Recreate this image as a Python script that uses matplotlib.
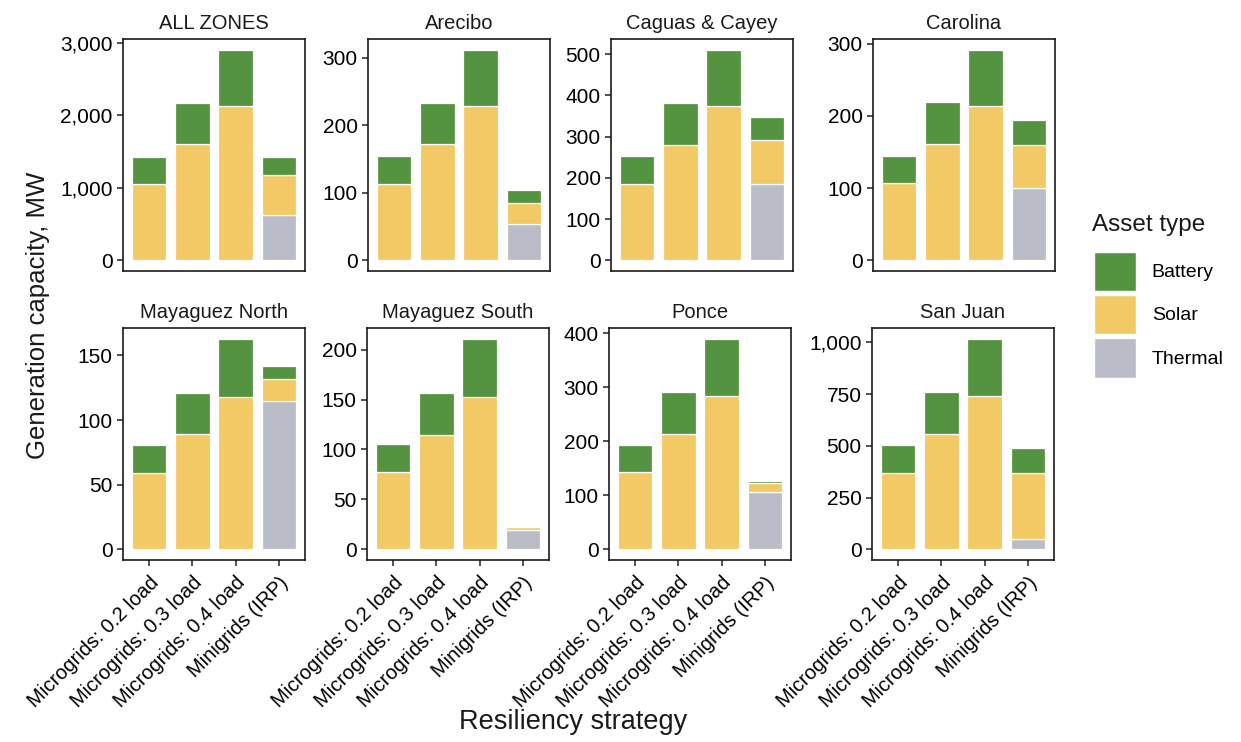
"""Generation capacity by resiliency strategy and asset type, per zone."""

import numpy as np
import matplotlib.pyplot as plt
from matplotlib.patches import Patch
from matplotlib.ticker import MultipleLocator, FuncFormatter

plt.rcParams['font.family'] = ['Liberation Sans', 'DejaVu Sans']

zones = ["ALL ZONES", "Arecibo", "Caguas & Cayey", "Carolina",
         "Mayaguez North", "Mayaguez South", "Ponce", "San Juan"]
strategies = ["Microgrids: 0.2 load", "Microgrids: 0.3 load",
              "Microgrids: 0.4 load", "Minigrids (IRP)"]
asset_types = ["Battery", "Solar", "Thermal"]

# MW per zone, one value per strategy
thermal = [
    [0, 0, 0, 625],
    [0, 0, 0, 54],
    [0, 0, 0, 186],
    [0, 0, 0, 100],
    [0, 0, 0, 115],
    [0, 0, 0, 19],
    [0, 0, 0, 107],
    [0, 0, 0, 49],
]
solar = [
    [1048, 1600, 2123, 552],
    [113, 172, 228, 31],
    [186, 280, 374, 105],
    [107, 161, 214, 60],
    [59, 89, 118, 17],
    [77, 115, 153, 3],
    [143, 214, 284, 16],
    [371, 556, 741, 319],
]
battery = [
    [382, 570, 784, 253],
    [41, 61, 84, 19],
    [67, 102, 137, 57],
    [38, 58, 78, 35],
    [22, 32, 45, 10],
    [28, 42, 58, 0],
    [51, 77, 106, 4],
    [133, 204, 278, 120],
]
ytick_step = [1000, 100, 100, 100, 50, 50, 100, 250]

colors = {"Battery": "#549440", "Solar": "#F2C965", "Thermal": "#BABCC7"}

W, H = 1241, 742
fig = plt.figure(figsize=(W / 100, H / 100), dpi=100)

# panel frames in pixels: (left, top)
panel_left = [123, 368, 611, 873, 123, 367, 609, 872]
panel_top = [39, 39, 39, 39, 328, 328, 328, 328]
pw, ph = 182, 232

x = np.arange(len(strategies))
for i, zone in enumerate(zones):
    l, t = panel_left[i], panel_top[i]
    ax = fig.add_axes([l / W, 1 - (t + ph) / H, pw / W, ph / H])
    th = np.array(thermal[i])
    so = np.array(solar[i])
    ba = np.array(battery[i])
    kw = dict(width=0.8, edgecolor='white', linewidth=0.9)
    ax.bar(x, th, color=colors["Thermal"], **kw)
    ax.bar(x, so, bottom=th, color=colors["Solar"], **kw)
    ax.bar(x, ba, bottom=th + so, color=colors["Battery"], **kw)

    top = (th + so + ba).max()
    ax.set_ylim(-0.05 * top, 1.05 * top)
    ax.set_xlim(-0.6, len(strategies) - 0.4)
    ax.yaxis.set_major_locator(MultipleLocator(ytick_step[i]))
    ax.yaxis.set_major_formatter(FuncFormatter(lambda v, p: f"{v:,.0f}"))
    ax.tick_params(axis='y', labelsize=15, length=4.5, width=1.1,
                   color='#222222', pad=3)
    ax.set_xticks(x)
    if i >= 4:
        ax.set_xticklabels(strategies, rotation=45, ha='right', va='top',
                           rotation_mode='anchor', fontsize=14.5)
        ax.tick_params(axis='x', length=4.5, width=1.1, color='#222222',
                       pad=5)
    else:
        ax.tick_params(axis='x', length=0, labelbottom=False)
    for s in ax.spines.values():
        s.set_linewidth(1.2)
        s.set_color('#1a1a1a')
    ax.set_title(zone, fontsize=14.5, pad=7, color='#1a1a1a')

fig.text(38 / W, 1 - 315 / H, "Generation capacity, MW", rotation=90,
         ha='center', va='center', fontsize=18.5, color='#1a1a1a')
fig.text(573 / W, 1 - 722 / H, "Resiliency strategy", ha='center',
         va='center', fontsize=19.5, color='#1a1a1a')

# legend keys, with the title set separately to leave a wider gap
handles = [Patch(facecolor=colors[a], edgecolor='white', label=a)
           for a in asset_types]
fig.text(1092 / W, 1 - 225 / H, "Asset type", ha='left', va='center',
         fontsize=17.5, color='#1a1a1a')
leg = fig.legend(handles=handles, loc='upper left',
                 bbox_to_anchor=(1076 / W, 1 - 234 / H), frameon=False,
                 fontsize=14, handlelength=2.2, handleheight=2.75,
                 labelspacing=0.2, handletextpad=0.8)

fig.savefig("out.png", dpi=100, facecolor='white')
